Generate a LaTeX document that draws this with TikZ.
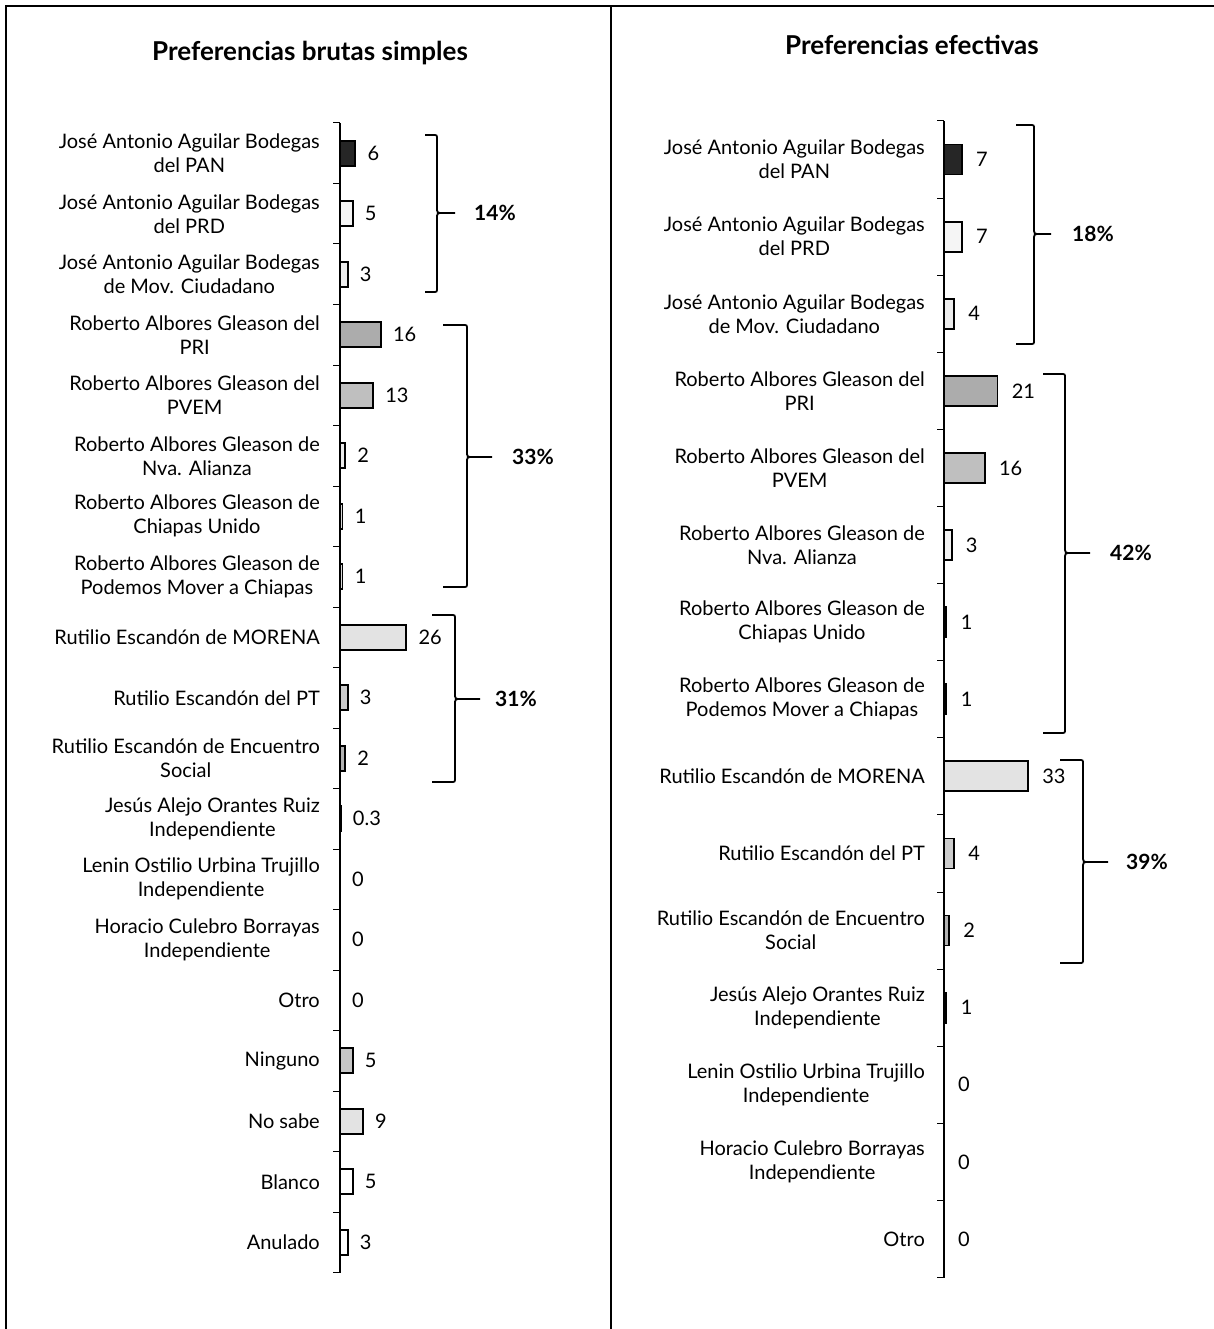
\documentclass[tikz,border=0pt]{standalone}
\usepackage{fontspec}
\setmainfont{Lato}
\newcommand\bracepath[6]{%
 \draw[bracel] (#1,#3) -- ({#2-4},#3) .. controls (#2,#3) .. (#2,{#3+4}) -- (#2,{#4-6}) .. controls (#2,#4) .. ({#2+6},#4) -- (#6,#4);
 \draw[bracel] ({#2+6},#4) .. controls (#2,#4) .. (#2,{#4+6}) -- (#2,{#5-4}) .. controls (#2,#5) .. ({#2-4},#5) -- (#1,#5);}
\begin{document}
\begin{tikzpicture}[x=1pt,y=-1pt,
  lbl/.style={font=\fontsize{20}{24}\selectfont, align=center, anchor=east, inner sep=0pt},
  val/.style={font=\fontsize{20}{24}\selectfont, anchor=west, inner sep=0pt},
  pct/.style={font=\bfseries\fontsize{21}{24}\selectfont, anchor=west, inner sep=0pt},
  ttl/.style={font=\bfseries\fontsize{26}{30}\selectfont, inner sep=0pt},
  bar/.style={draw=black, line width=1.8pt},
  axisline/.style={line width=1.8pt},
  tickline/.style={line width=1pt},
  bracel/.style={line width=1.8pt},
  frame/.style={line width=2pt}]
\useasboundingbox (0,0) rectangle (1214,1329);
% frame
\draw[frame] (1214,6) -- (6,6) -- (6,1329);
\draw[frame] (611,6) -- (611,1329);
% titles
\node[ttl] (T1) at (310,53) {Preferencias brutas simples};
\node[ttl] (T2) at (912,45) {Preferencias efectivas};
% ---------------- left chart
\draw[axisline] (340,123) -- (340,1272.5);
\foreach \k in {0,...,19} \draw[tickline] (333,{123+60.5*\k}) -- (340,{123+60.5*\k});
\foreach \i/\v/\f/\t/\n in {
 1/6/black!85/{José Antonio Aguilar Bodegas\\del PAN}/6,
 2/5/gray!8/{José Antonio Aguilar Bodegas\\del PRD}/5,
 3/3/gray!15/{José Antonio Aguilar Bodegas\\de Mov. Ciudadano}/3,
 4/16/gray!65/{Roberto Albores Gleason del\\PRI}/16,
 5/13/gray!50/{Roberto Albores Gleason del\\PVEM}/13,
 6/2/gray!15/{Roberto Albores Gleason de\\Nva. Alianza}/2,
 7/1/gray!30/{Roberto Albores Gleason de\\Chiapas Unido}/1,
 8/1/gray!30/{Roberto Albores Gleason de\\Podemos Mover a Chiapas}/1,
 9/26/gray!22/{Rutilio Escandón de MORENA}/26,
 10/3/gray!40/{Rutilio Escandón del PT}/3,
 11/2/gray!60/{Rutilio Escandón de Encuentro\\Social}/2,
 12/0.3/black/{Jesús Alejo Orantes Ruiz\\Independiente}/0.3,
 13/0/white/{Lenin Ostilio Urbina Trujillo\\Independiente}/0,
 14/0/white/{Horacio Culebro Borrayas\\Independiente}/0,
 15/0/white/{Otro}/0,
 16/5/gray!45/{Ninguno}/5,
 17/9/gray!22/{No sabe}/9,
 18/5/white/{Blanco}/5,
 19/3/white/{Anulado}/3}{
  \pgfmathsetmacro\yc{123+60.5*(\i-0.5)}
  \pgfmathsetmacro\xe{340+2.55*\v}
  \pgfmathtruncatemacro\hasbar{(\v>0) ? 1 : 0}
  \ifnum\hasbar=1
    \draw[bar, fill=\f] (340,{\yc-12.5}) rectangle (\xe,{\yc+12.5});
  \fi
  \node[lbl] (L\i) at (320,\yc) {\t};
  \node[val] (V\i) at ({\xe+12},\yc) {\n};
}
\bracepath{425}{437}{135}{213}{292}{455}
\node[pct] (P1) at (474,213) {14\%};
\bracepath{443}{467}{325}{457}{587}{492}
\node[pct] (P2) at (512,457) {33\%};
\bracepath{432}{455}{615}{699}{782}{480}
\node[pct] (P3) at (495,699) {31\%};
% ---------------- right chart
\draw[axisline] (944,121) -- (944,1277.5);
\foreach \k in {0,...,15} \draw[tickline] (937,{121+77.1*\k}) -- (944,{121+77.1*\k});
\foreach \i/\v/\f/\t/\n in {
 1/7/black!85/{José Antonio Aguilar Bodegas\\del PAN}/7,
 2/7/gray!8/{José Antonio Aguilar Bodegas\\del PRD}/7,
 3/4/gray!15/{José Antonio Aguilar Bodegas\\de Mov. Ciudadano}/4,
 4/21/gray!65/{Roberto Albores Gleason del\\PRI}/21,
 5/16/gray!50/{Roberto Albores Gleason del\\PVEM}/16,
 6/3/gray!10/{Roberto Albores Gleason de\\Nva. Alianza}/3,
 7/1/black/{Roberto Albores Gleason de\\Chiapas Unido}/1,
 8/1/black/{Roberto Albores Gleason de\\Podemos Mover a Chiapas}/1,
 9/33/gray!22/{Rutilio Escandón de MORENA}/33,
 10/4/gray!40/{Rutilio Escandón del PT}/4,
 11/2/gray!60/{Rutilio Escandón de Encuentro\\Social}/2,
 12/1/black/{Jesús Alejo Orantes Ruiz\\Independiente}/1,
 13/0/white/{Lenin Ostilio Urbina Trujillo\\Independiente}/0,
 14/0/white/{Horacio Culebro Borrayas\\Independiente}/0,
 15/0/white/{Otro}/0}{
  \pgfmathsetmacro\yc{121+77.1*(\i-0.5)}
  \pgfmathsetmacro\xe{944+2.55*\v}
  \pgfmathtruncatemacro\hasbar{(\v>0) ? 1 : 0}
  \ifnum\hasbar=1
    \draw[bar, fill=\f] (944,{\yc-15}) rectangle (\xe,{\yc+15});
  \fi
  \node[lbl] (R\i) at (925,\yc) {\t};
  \node[val] (W\i) at ({\xe+14},\yc) {\n};
}
\bracepath{1016}{1034}{125}{234}{344}{1051}
\node[pct] (Q1) at (1072,234) {18\%};
\bracepath{1043}{1065}{374}{553}{733}{1090}
\node[pct] (Q2) at (1110,553) {42\%};
\bracepath{1060}{1083}{760}{862}{963}{1108}
\node[pct] (Q3) at (1126,862) {39\%};
\end{tikzpicture}
\end{document}
